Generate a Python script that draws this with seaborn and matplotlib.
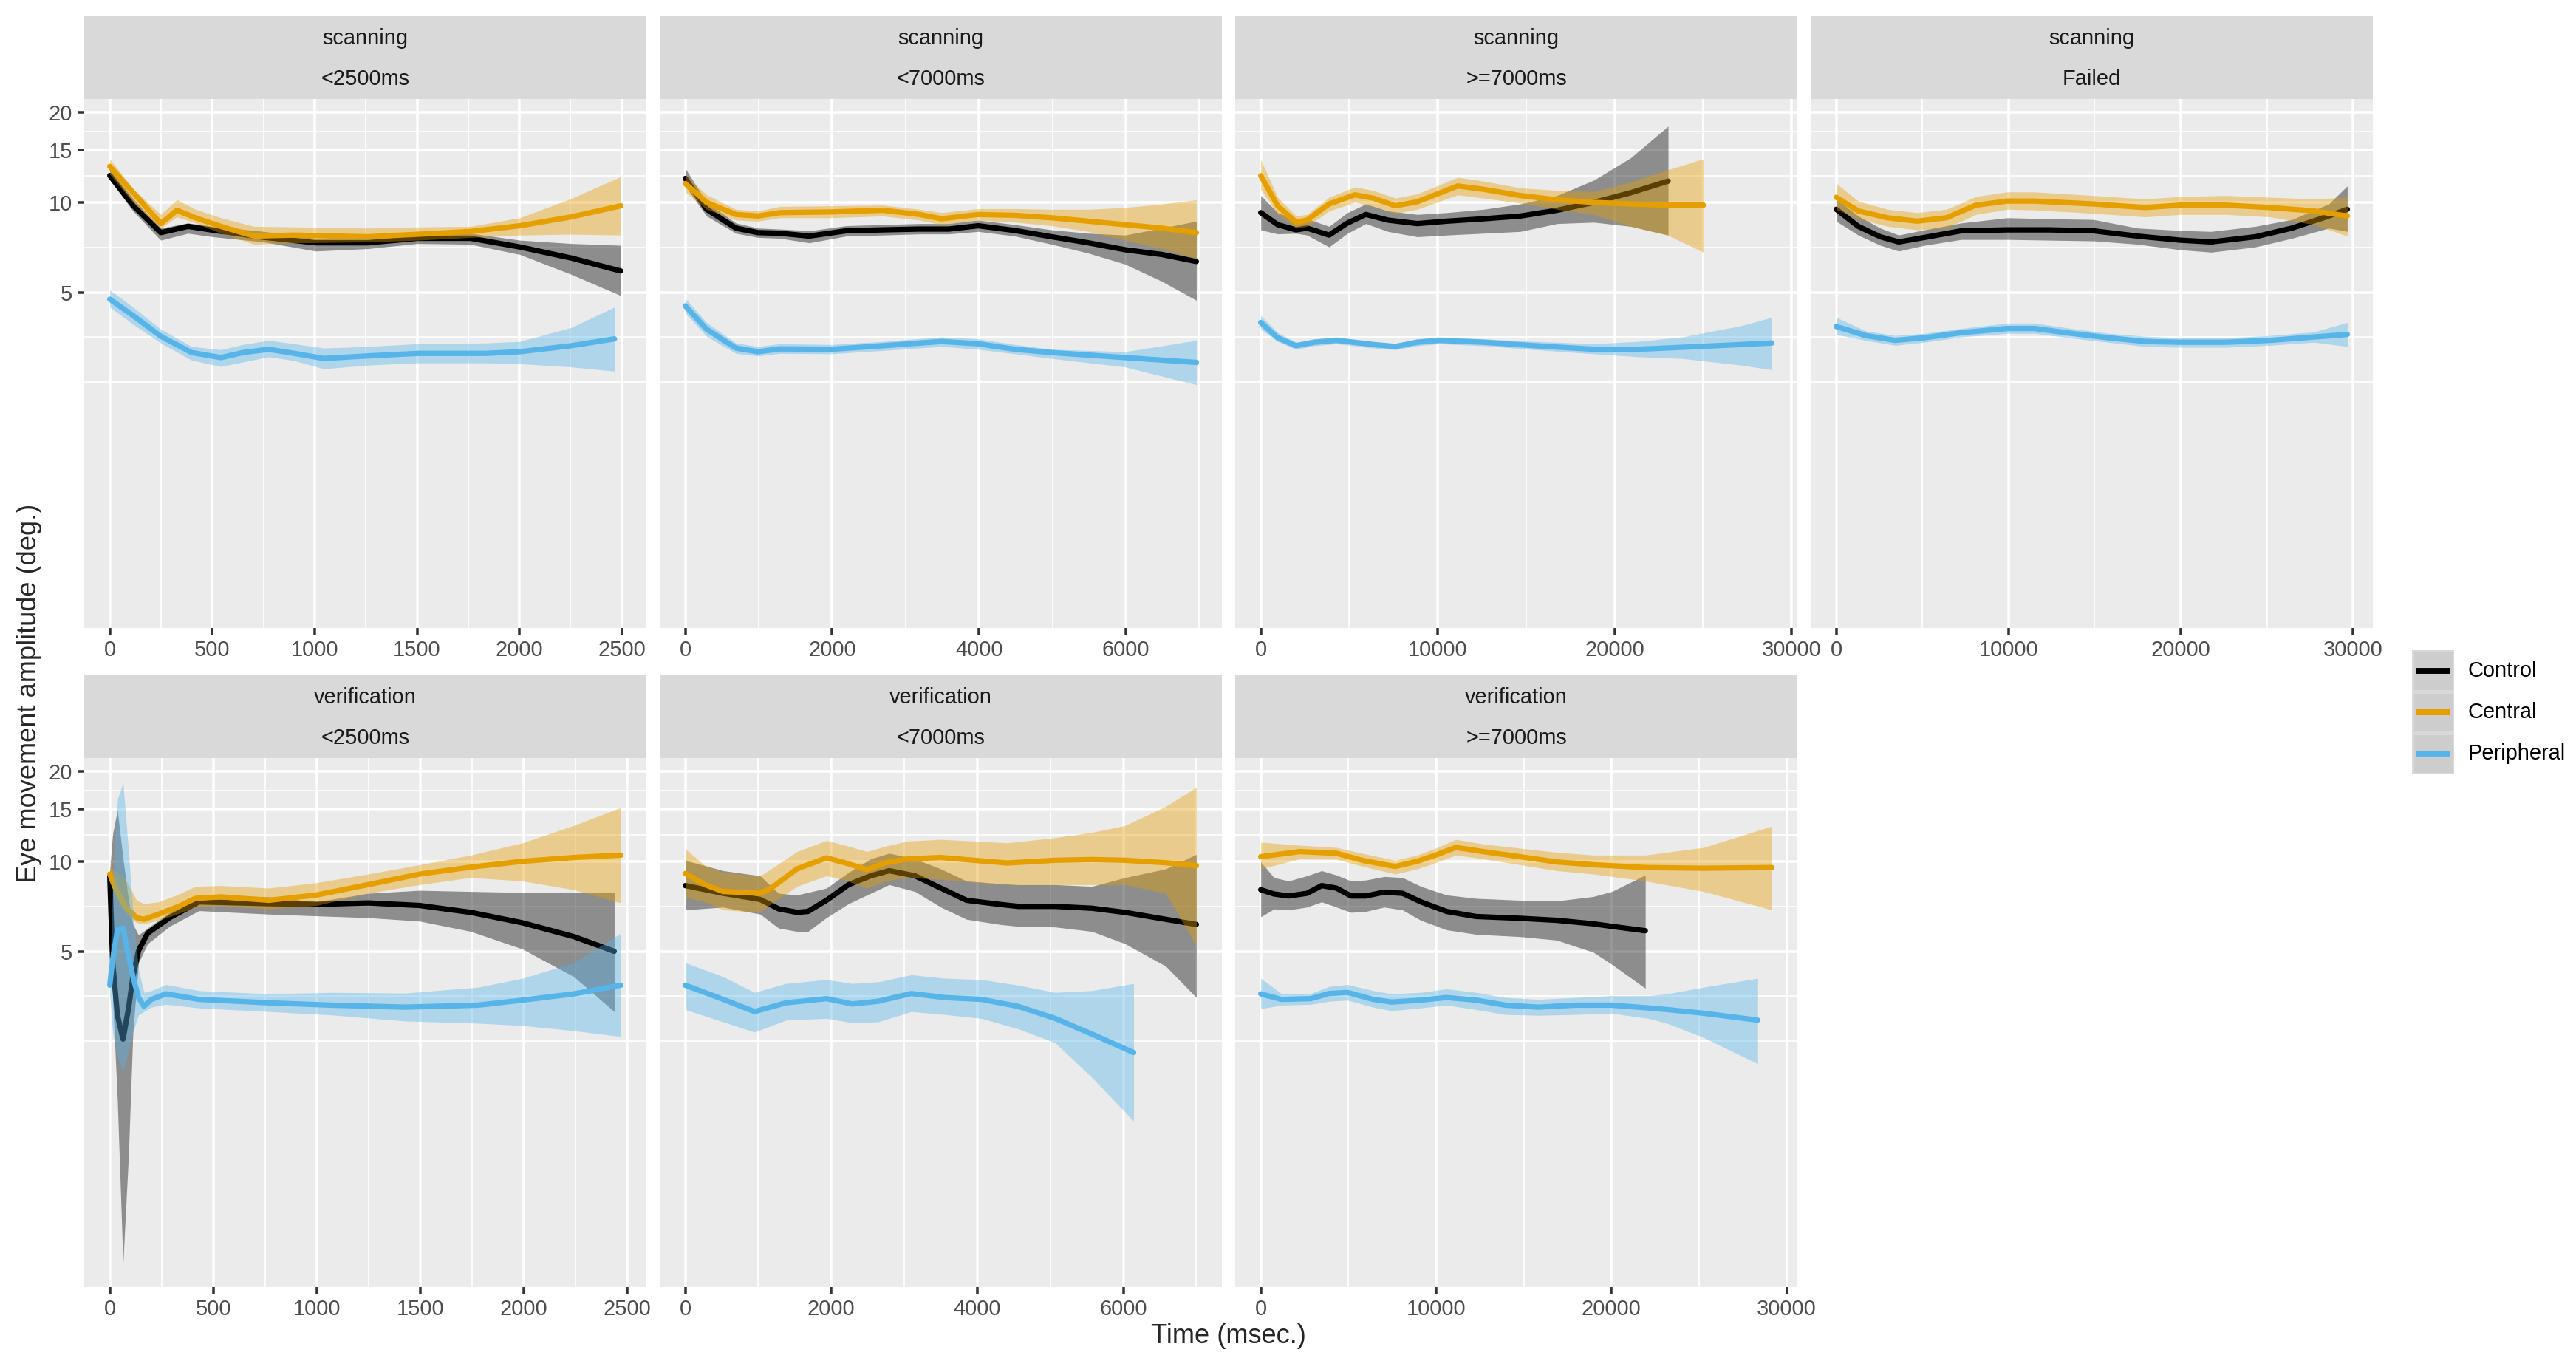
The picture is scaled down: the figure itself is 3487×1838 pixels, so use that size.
import numpy as np
import pandas as pd
import seaborn as sns
import matplotlib
matplotlib.use("Agg")
import matplotlib.pyplot as plt
from matplotlib.patches import Rectangle
from matplotlib.ticker import FixedLocator, MultipleLocator, NullFormatter, FixedFormatter, FuncFormatter

# ---- data (time in ms, amplitude in deg.) ----
# scanning, <2500ms
s1_control_t = [0, 113, 249, 382, 504, 751, 1005, 1260, 1503, 1761, 2002, 2253, 2495]
s1_control_y = [12.3, 9.78, 7.92, 8.31, 8.07, 7.64, 7.32, 7.32, 7.58, 7.58, 7.09, 6.51, 5.89]
s1_control_lo = [11.9, 9.36, 7.47, 7.88, 7.67, 7.37, 6.87, 7.00, 7.28, 7.24, 6.69, 5.74, 4.87]
s1_control_hi = [12.9, 10.3, 8.20, 8.53, 8.31, 7.99, 7.58, 7.58, 7.84, 7.88, 7.47, 7.28, 7.18]
s1_central_t = [0, 113, 249, 328, 418, 543, 704, 901, 1260, 1503, 1761, 2002, 2253, 2495]
s1_central_y = [13.2, 10.8, 8.49, 9.41, 8.88, 8.31, 7.71, 7.77, 7.67, 7.82, 7.99, 8.35, 8.94, 9.74]
s1_central_lo = [12.42, 10.0, 8.20, 8.94, 8.53, 7.88, 7.24, 7.32, 7.37, 7.47, 7.63, 7.77, 7.82, 7.77]
s1_central_hi = [13.99, 11.12, 9.11, 10.21, 9.48, 8.88, 8.31, 8.27, 8.20, 8.27, 8.31, 8.88, 10.3, 12.2]
s1_peripheral_t = [0, 113, 249, 400, 543, 650, 776, 901, 1045, 1260, 1503, 1833, 2002, 2253, 2464]
s1_peripheral_y = [4.74, 4.18, 3.56, 3.14, 3.02, 3.14, 3.22, 3.12, 3.00, 3.06, 3.12, 3.12, 3.16, 3.31, 3.49]
s1_peripheral_lo = [4.46, 3.91, 3.38, 2.96, 2.82, 2.92, 3.04, 2.95, 2.77, 2.85, 2.90, 2.90, 2.88, 2.81, 2.72]
s1_peripheral_hi = [5.09, 4.46, 3.76, 3.29, 3.21, 3.34, 3.45, 3.36, 3.25, 3.29, 3.36, 3.38, 3.42, 3.81, 4.46]

# scanning, <7000ms
s2_control_t = [0, 290, 690, 990, 1290, 1690, 2190, 2690, 3190, 3590, 3990, 4490, 4990, 5490, 5990, 6490, 6960]
s2_control_y = [12.03, 9.48, 8.20, 7.92, 7.88, 7.71, 8.03, 8.09, 8.14, 8.14, 8.35, 8.05, 7.67, 7.32, 6.94, 6.69, 6.34]
s2_control_lo = [11.35, 9.0, 7.88, 7.63, 7.58, 7.32, 7.71, 7.77, 7.84, 7.84, 7.99, 7.71, 7.24, 6.76, 6.21, 5.44, 4.70]
s2_control_hi = [13.0, 10.0, 8.53, 8.20, 8.14, 8.03, 8.35, 8.42, 8.49, 8.49, 8.72, 8.42, 8.09, 7.88, 7.77, 8.20, 8.65]
s2_central_t = [0, 290, 690, 990, 1290, 1990, 2690, 3190, 3490, 3990, 4490, 4990, 5490, 5990, 6490, 6960]
s2_central_y = [11.57, 10.0, 9.11, 9.0, 9.24, 9.29, 9.41, 9.11, 8.81, 9.11, 9.05, 8.88, 8.65, 8.42, 8.20, 7.92]
s2_central_lo = [10.84, 9.48, 8.72, 8.65, 8.88, 8.88, 9.0, 8.72, 8.42, 8.72, 8.58, 8.35, 7.99, 7.47, 7.00, 6.46]
s2_central_hi = [12.36, 10.6, 9.48, 9.36, 9.69, 9.74, 9.79, 9.48, 9.24, 9.53, 9.53, 9.48, 9.48, 9.61, 9.87, 10.2]
s2_peripheral_t = [0, 290, 690, 990, 1290, 1990, 2690, 3490, 3990, 4490, 4990, 5990, 6960]
s2_peripheral_y = [4.50, 3.76, 3.25, 3.16, 3.23, 3.22, 3.31, 3.42, 3.36, 3.22, 3.14, 3.02, 2.91]
s2_peripheral_lo = [4.26, 3.56, 3.12, 3.06, 3.12, 3.11, 3.19, 3.29, 3.22, 3.11, 3.00, 2.81, 2.45]
s2_peripheral_hi = [4.77, 3.96, 3.38, 3.29, 3.36, 3.34, 3.42, 3.54, 3.49, 3.34, 3.22, 3.16, 3.45]

# scanning, >=7000ms
s3_control_t = [0, 956, 1995, 2618, 3865, 4904, 5943, 7190, 8852, 10515, 12593, 14671, 16749, 18827, 20905, 23024]
s3_control_y = [9.24, 8.42, 8.09, 8.20, 7.77, 8.53, 9.11, 8.72, 8.49, 8.65, 8.81, 9.0, 9.41, 10.0, 10.77, 11.78]
s3_control_lo = [8.09, 7.84, 7.88, 7.77, 7.09, 7.88, 8.49, 7.99, 7.67, 7.77, 7.88, 7.99, 8.49, 8.58, 8.31, 7.77]
s3_control_hi = [10.54, 9.24, 8.76, 8.81, 8.31, 9.24, 9.88, 9.36, 9.11, 9.24, 9.48, 9.88, 10.54, 11.87, 14.1, 18.0]
s3_central_t = [0, 956, 1995, 2618, 3865, 5320, 6359, 7606, 8852, 11138, 12593, 14671, 16749, 18827, 20905, 22983, 25019]
s3_central_y = [12.29, 9.74, 8.58, 8.72, 9.88, 10.6, 10.33, 9.74, 10.05, 11.35, 11.06, 10.54, 10.2, 10.0, 9.88, 9.79, 9.79]
s3_central_lo = [11.06, 9.11, 8.2, 8.31, 9.36, 10.0, 9.69, 9.19, 9.48, 10.6, 10.33, 9.94, 9.48, 9.11, 8.31, 7.77, 6.81]
s3_central_hi = [13.92, 10.4, 9.0, 9.11, 10.4, 11.26, 10.97, 10.33, 10.68, 12.13, 11.78, 11.18, 10.97, 10.87, 11.7, 12.85, 13.99]
s3_peripheral_t = [0, 956, 1995, 3034, 4281, 6359, 7606, 8852, 10099, 12593, 15502, 18827, 21320, 23814, 27139, 28884]
s3_peripheral_y = [3.96, 3.52, 3.31, 3.40, 3.45, 3.34, 3.29, 3.40, 3.45, 3.40, 3.31, 3.22, 3.22, 3.27, 3.34, 3.38]
s3_peripheral_lo = [3.76, 3.42, 3.22, 3.31, 3.36, 3.25, 3.21, 3.31, 3.36, 3.31, 3.21, 3.11, 3.04, 3.00, 2.85, 2.75]
s3_peripheral_hi = [4.18, 3.66, 3.40, 3.49, 3.54, 3.42, 3.36, 3.49, 3.54, 3.49, 3.42, 3.36, 3.42, 3.54, 3.86, 4.12]

# scanning, Failed
s4_control_t = [0, 1280, 2561, 3628, 5122, 7256, 9944, 12377, 14938, 17499, 19974, 21767, 24328, 26462, 28596, 29670]
s4_control_y = [9.48, 8.31, 7.67, 7.37, 7.63, 8.03, 8.09, 8.09, 8.03, 7.71, 7.47, 7.37, 7.67, 8.20, 9.0, 9.48]
s4_control_lo = [8.65, 7.77, 7.18, 6.87, 7.18, 7.51, 7.51, 7.47, 7.43, 7.24, 6.94, 6.81, 7.09, 7.58, 8.2, 7.99]
s4_control_hi = [10.27, 9.0, 8.2, 7.77, 8.09, 8.53, 8.88, 8.81, 8.76, 8.2, 8.05, 7.99, 8.31, 8.76, 9.88, 11.35]
s4_central_t = [0, 1280, 2988, 4695, 6402, 8109, 9944, 11524, 14938, 17926, 19974, 22620, 25181, 27742, 29670]
s4_central_y = [10.4, 9.36, 8.88, 8.65, 8.88, 9.79, 10.1, 10.1, 9.88, 9.61, 9.79, 9.79, 9.61, 9.36, 9.0]
s4_central_lo = [9.48, 8.81, 8.31, 8.09, 8.2, 9.11, 9.48, 9.43, 9.19, 8.94, 9.11, 9.11, 8.94, 8.42, 7.71]
s4_central_hi = [11.57, 10.1, 9.48, 9.24, 9.48, 10.46, 10.84, 10.84, 10.54, 10.27, 10.46, 10.54, 10.4, 10.27, 10.4]
s4_peripheral_t = [0, 1707, 3414, 5122, 7256, 9944, 11524, 13658, 15792, 17926, 19974, 22620, 25181, 27742, 29670]
s4_peripheral_y = [3.84, 3.58, 3.45, 3.52, 3.66, 3.78, 3.78, 3.64, 3.52, 3.42, 3.40, 3.40, 3.45, 3.54, 3.61]
s4_peripheral_lo = [3.61, 3.45, 3.32, 3.40, 3.54, 3.64, 3.64, 3.51, 3.40, 3.29, 3.27, 3.27, 3.32, 3.40, 3.29]
s4_peripheral_hi = [4.12, 3.71, 3.58, 3.64, 3.78, 3.94, 3.94, 3.78, 3.64, 3.56, 3.52, 3.52, 3.58, 3.68, 3.96]

# verification, <2500ms
v1_control_t = [0, 14, 37, 64, 91, 112, 139, 183, 289, 431, 769, 1000, 1248, 1497, 1745, 1994, 2243, 2438]
v1_control_y = [8.95, 4.58, 3.05, 2.54, 3.23, 4.11, 5.03, 5.75, 6.48, 7.32, 7.22, 7.18, 7.26, 7.12, 6.75, 6.23, 5.60, 5.0]
v1_control_lo = [8.49, 3.50, 1.57, 0.45, 1.05, 2.68, 4.58, 5.30, 6.06, 6.84, 6.66, 6.57, 6.48, 6.31, 5.83, 5.09, 4.11, 3.14]
v1_control_hi = [9.31, 12.34, 14.89, 10.23, 7.41, 6.15, 5.67, 5.98, 6.75, 7.72, 7.61, 7.32, 7.82, 8.0, 7.93, 7.87, 7.87, 7.89]
v1_central_t = [0, 23, 76, 130, 165, 236, 325, 414, 538, 769, 1000, 1248, 1497, 1745, 1994, 2243, 2470]
v1_central_y = [9.07, 8.25, 7.03, 6.48, 6.40, 6.66, 7.03, 7.52, 7.61, 7.41, 7.72, 8.36, 9.07, 9.57, 10.01, 10.31, 10.5]
v1_central_lo = [8.71, 7.82, 6.66, 6.23, 6.18, 6.35, 6.66, 7.03, 7.12, 6.93, 7.12, 7.82, 8.36, 8.83, 8.60, 8.04, 7.26]
v1_central_hi = [9.64, 9.31, 8.71, 7.41, 7.22, 7.32, 7.72, 8.25, 8.30, 8.14, 8.49, 9.07, 9.75, 10.5, 11.54, 13.2, 15.17]
v1_peripheral_t = [0, 14, 37, 64, 91, 112, 139, 165, 201, 272, 431, 769, 1071, 1426, 1781, 1994, 2243, 2470]
v1_peripheral_y = [3.85, 4.70, 5.90, 5.98, 4.83, 4.11, 3.50, 3.27, 3.45, 3.60, 3.45, 3.36, 3.30, 3.25, 3.30, 3.43, 3.60, 3.85]
v1_peripheral_lo = [3.60, 2.68, 2.22, 1.97, 2.34, 2.68, 3.06, 3.14, 3.25, 3.32, 3.23, 3.14, 3.06, 2.92, 2.87, 2.82, 2.71, 2.59]
v1_peripheral_hi = [4.11, 8.25, 16.14, 18.35, 10.79, 6.84, 4.34, 3.64, 3.69, 3.87, 3.69, 3.60, 3.64, 3.62, 3.79, 4.06, 4.58, 5.75]

# verification, <7000ms
v2_control_t = [0, 520, 1025, 1278, 1530, 1682, 1934, 2237, 2540, 2793, 3146, 3500, 3853, 4308, 4560, 5065, 5570, 6025, 6580, 7000]
v2_control_y = [8.30, 7.82, 7.46, 6.94, 6.75, 6.80, 7.41, 8.36, 8.95, 9.31, 8.95, 8.14, 7.41, 7.18, 7.07, 7.07, 6.97, 6.75, 6.40, 6.15]
v2_control_lo = [6.88, 7.03, 6.66, 5.98, 5.83, 5.83, 6.48, 7.22, 7.82, 8.36, 7.93, 7.03, 6.40, 6.15, 6.06, 6.03, 5.83, 5.30, 4.46, 3.50]
v2_control_hi = [10.09, 9.31, 8.95, 7.82, 7.72, 7.87, 8.14, 9.19, 10.2, 10.65, 10.2, 9.44, 8.60, 8.43, 8.36, 8.36, 8.25, 8.83, 9.44, 10.56]
v2_central_t = [0, 268, 520, 1025, 1177, 1530, 1934, 2187, 2490, 2742, 3045, 3500, 3954, 4409, 5065, 5570, 6025, 6580, 7000]
v2_central_y = [9.11, 8.36, 7.93, 7.82, 8.14, 9.44, 10.28, 9.90, 9.39, 9.90, 10.2, 10.31, 10.09, 9.88, 10.09, 10.15, 10.09, 9.90, 9.69]
v2_central_lo = [7.61, 7.32, 6.88, 6.75, 7.22, 8.25, 8.95, 8.66, 8.14, 8.60, 8.83, 8.71, 8.53, 8.36, 8.36, 8.36, 8.36, 7.82, 5.23]
v2_central_hi = [11.03, 9.69, 9.19, 8.95, 9.44, 10.79, 11.76, 11.33, 10.79, 11.25, 11.7, 11.85, 11.7, 11.54, 12.01, 12.51, 13.2, 15.29, 17.72]
v2_peripheral_t = [0, 520, 949, 1379, 1934, 2288, 2641, 3096, 3550, 4055, 4560, 5065, 5570, 6141]
v2_peripheral_y = [3.85, 3.45, 3.14, 3.36, 3.47, 3.33, 3.40, 3.61, 3.50, 3.45, 3.27, 2.98, 2.64, 2.29]
v2_peripheral_lo = [3.19, 2.90, 2.68, 2.94, 2.98, 2.88, 2.90, 3.14, 3.07, 2.98, 2.75, 2.47, 1.89, 1.35]
v2_peripheral_hi = [4.58, 4.11, 3.64, 3.90, 4.02, 3.90, 3.95, 4.17, 4.06, 4.02, 3.85, 3.64, 3.69, 3.90]

# verification, >=7000ms
v3_control_t = [0, 754, 1592, 2640, 3478, 4316, 5154, 5992, 7039, 8087, 9134, 10601, 12277, 14791, 16886, 18981, 20028, 21935]
v3_control_y = [8.04, 7.78, 7.66, 7.82, 8.30, 8.14, 7.66, 7.66, 7.89, 7.82, 7.32, 6.80, 6.54, 6.45, 6.35, 6.18, 6.06, 5.86]
v3_control_lo = [6.52, 6.93, 6.88, 7.03, 7.32, 7.03, 6.75, 6.80, 7.03, 6.88, 6.35, 5.90, 5.70, 5.60, 5.45, 4.96, 4.52, 3.76]
v3_control_hi = [9.96, 8.83, 8.60, 8.95, 9.31, 9.0, 8.60, 8.66, 8.90, 8.83, 8.25, 7.72, 7.52, 7.41, 7.37, 7.63, 7.93, 9.0]
v3_central_t = [0, 2221, 4316, 5782, 7668, 8925, 9972, 11124, 12696, 14791, 16886, 18981, 21935, 25266, 29150]
v3_central_y = [10.37, 10.79, 10.65, 10.09, 9.62, 10.01, 10.5, 11.14, 10.79, 10.37, 9.96, 9.75, 9.54, 9.49, 9.54]
v3_central_lo = [9.44, 10.2, 10.17, 9.64, 9.07, 9.44, 9.90, 10.5, 10.2, 9.75, 9.31, 9.07, 8.60, 7.93, 6.88]
v3_central_hi = [11.60, 11.33, 11.14, 10.65, 10.09, 10.5, 11.08, 11.85, 11.44, 11.08, 10.73, 10.5, 10.5, 11.14, 13.13]
v3_peripheral_t = [0, 1173, 2849, 3897, 4944, 6411, 7458, 9134, 10601, 12277, 13953, 15838, 17933, 19986, 22123, 23170, 25266, 28345]
v3_peripheral_y = [3.60, 3.45, 3.47, 3.61, 3.64, 3.45, 3.38, 3.43, 3.50, 3.43, 3.30, 3.25, 3.30, 3.30, 3.23, 3.19, 3.10, 2.94]
v3_peripheral_lo = [3.21, 3.30, 3.32, 3.40, 3.43, 3.25, 3.16, 3.23, 3.30, 3.19, 3.07, 3.05, 3.07, 3.10, 2.98, 2.87, 2.57, 2.10]
v3_peripheral_hi = [4.06, 3.61, 3.61, 3.81, 3.87, 3.69, 3.60, 3.64, 3.74, 3.64, 3.50, 3.45, 3.50, 3.55, 3.55, 3.60, 3.79, 4.06]

groups = ['Control', 'Central', 'Peripheral']
colours = ['#000000', '#E69F00', '#56B4E9']
panel_labels = [('scanning', '<2500ms'), ('scanning', '<7000ms'), ('scanning', '>=7000ms'),
                ('scanning', 'Failed'), ('verification', '<2500ms'),
                ('verification', '<7000ms'), ('verification', '>=7000ms')]
y_major = [5, 10, 15, 20]
y_minor = [2.5, 3.536, 7.071, 12.247, 17.32]
x_steps = [500, 2000, 10000, 10000]

panel_series = [
    [(s1_control_t, s1_control_y, s1_control_lo, s1_control_hi),
     (s1_central_t, s1_central_y, s1_central_lo, s1_central_hi),
     (s1_peripheral_t, s1_peripheral_y, s1_peripheral_lo, s1_peripheral_hi)],
    [(s2_control_t, s2_control_y, s2_control_lo, s2_control_hi),
     (s2_central_t, s2_central_y, s2_central_lo, s2_central_hi),
     (s2_peripheral_t, s2_peripheral_y, s2_peripheral_lo, s2_peripheral_hi)],
    [(s3_control_t, s3_control_y, s3_control_lo, s3_control_hi),
     (s3_central_t, s3_central_y, s3_central_lo, s3_central_hi),
     (s3_peripheral_t, s3_peripheral_y, s3_peripheral_lo, s3_peripheral_hi)],
    [(s4_control_t, s4_control_y, s4_control_lo, s4_control_hi),
     (s4_central_t, s4_central_y, s4_central_lo, s4_central_hi),
     (s4_peripheral_t, s4_peripheral_y, s4_peripheral_lo, s4_peripheral_hi)],
    [(v1_control_t, v1_control_y, v1_control_lo, v1_control_hi),
     (v1_central_t, v1_central_y, v1_central_lo, v1_central_hi),
     (v1_peripheral_t, v1_peripheral_y, v1_peripheral_lo, v1_peripheral_hi)],
    [(v2_control_t, v2_control_y, v2_control_lo, v2_control_hi),
     (v2_central_t, v2_central_y, v2_central_lo, v2_central_hi),
     (v2_peripheral_t, v2_peripheral_y, v2_peripheral_lo, v2_peripheral_hi)],
    [(v3_control_t, v3_control_y, v3_control_lo, v3_control_hi),
     (v3_central_t, v3_central_y, v3_central_lo, v3_central_hi),
     (v3_peripheral_t, v3_peripheral_y, v3_peripheral_lo, v3_peripheral_hi)],
]

# long table, one row per curve point
frames = []
for (phase, dur), series in zip(panel_labels, panel_series):
    for g, (t, y, lo, hi) in zip(groups, series):
        frames.append(pd.DataFrame({'phase': phase, 'duration': dur, 'group': g,
                                    'time': t, 'amp': y, 'lo': lo, 'hi': hi}))
df = pd.concat(frames, ignore_index=True)

# plot params
sns.set_theme(style='white')
plt.rcParams['font.family'] = ['Liberation Sans', 'DejaVu Sans']

W, H, DPI = 3487, 1838, 237
fig = plt.figure(figsize=(W / DPI, H / DPI), dpi=DPI)

col_left = [114, 893, 1672, 2451]
row_top = [134, 1026]
pw, ph, sh = 761, 716, 113

for i, (phase, dur) in enumerate(panel_labels):
    r, c = divmod(i, 4)
    x0, top = col_left[c], row_top[r]
    ax = fig.add_axes([x0 / W, 1 - (top + ph) / H, pw / W, ph / H])
    ax.set_facecolor('#EBEBEB')
    sub = df[(df.phase == phase) & (df.duration == dur)]
    for k, (g, col) in enumerate(zip(groups, colours)):
        d = sub[sub.group == g]
        ax.fill_between(d.time, d.lo, d.hi, color=col, alpha=0.4, linewidth=0, zorder=3 + 2 * k)
        sns.lineplot(data=d, x='time', y='amp', color=col, linewidth=2.2, estimator=None,
                     ax=ax, zorder=4 + 2 * k, legend=False)
    xmax = sub.time.max()
    ax.set_xlim(-0.05 * xmax, 1.05 * xmax)
    ax.set_yscale('log')
    ax.set_ylim(0.375, 22.2)
    ax.yaxis.set_major_locator(FixedLocator(y_major))
    ax.yaxis.set_major_formatter(FixedFormatter([str(v) for v in y_major]))
    ax.yaxis.set_minor_locator(FixedLocator(y_minor))
    ax.yaxis.set_minor_formatter(NullFormatter())
    ax.xaxis.set_major_locator(MultipleLocator(x_steps[c]))
    ax.xaxis.set_minor_locator(MultipleLocator(x_steps[c] / 2))
    ax.xaxis.set_major_formatter(FuncFormatter(lambda v, p: '%d' % v))
    ax.set_axisbelow(True)
    ax.grid(which='major', color='white', linewidth=1.07)
    ax.grid(which='minor', color='white', linewidth=0.53)
    for s in ax.spines.values():
        s.set_visible(False)
    ax.tick_params(which='major', length=2.75, width=1.07, color='#333333',
                   labelcolor='#4D4D4D', labelsize=8.8, pad=2.2)
    ax.tick_params(which='minor', length=0)
    ax.tick_params(axis='x', bottom=True)
    ax.tick_params(axis='y', left=(c == 0), labelleft=(c == 0))
    ax.set_xlabel('')
    ax.set_ylabel('')

    # strip with the two facet labels
    sax = fig.add_axes([x0 / W, 1 - top / H, pw / W, sh / H])
    sax.set_facecolor('#D9D9D9')
    sax.set_xticks([])
    sax.set_yticks([])
    for s in sax.spines.values():
        s.set_visible(False)
    sax.text(0.5, 0.726, phase, ha='center', va='center', fontsize=8.8, color='#1A1A1A')
    sax.text(0.5, 0.239, dur, ha='center', va='center', fontsize=8.8, color='#1A1A1A')

fig.text(1663 / W, 1 - 1808 / H, 'Time (msec.)', ha='center', va='center', fontsize=11)
fig.text(40 / W, 1 - 938 / H, 'Eye movement amplitude (deg.)', ha='center', va='center',
         rotation=90, fontsize=11)

# legend drawn as ggplot-style keys (grey box with a line) in pixel units
key = 56
lax = fig.add_axes([3265 / W, 1 - (880 + 3 * key) / H, 57 / W, 3 * key / H])
lax.set_xlim(0, 57)
lax.set_ylim(3 * key, 0)
lax.axis('off')
for k, (g, col) in enumerate(zip(groups, colours)):
    lax.add_patch(Rectangle((0, k * key), 57, key, facecolor='#D9D9D9', edgecolor='none'))
    lax.add_patch(Rectangle((2.5, k * key + 2.5), 52, key - 5, facecolor='#CDCDCD', edgecolor='none'))
    lax.plot([6, 51], [k * key + key / 2] * 2, color=col, linewidth=2.4, solid_capstyle='butt')
    fig.text(3341 / W, 1 - (880 + k * key + key / 2) / H, g, ha='left', va='center',
             fontsize=8.8, color='black')

fig.savefig('out.png', dpi=DPI, facecolor='white')
